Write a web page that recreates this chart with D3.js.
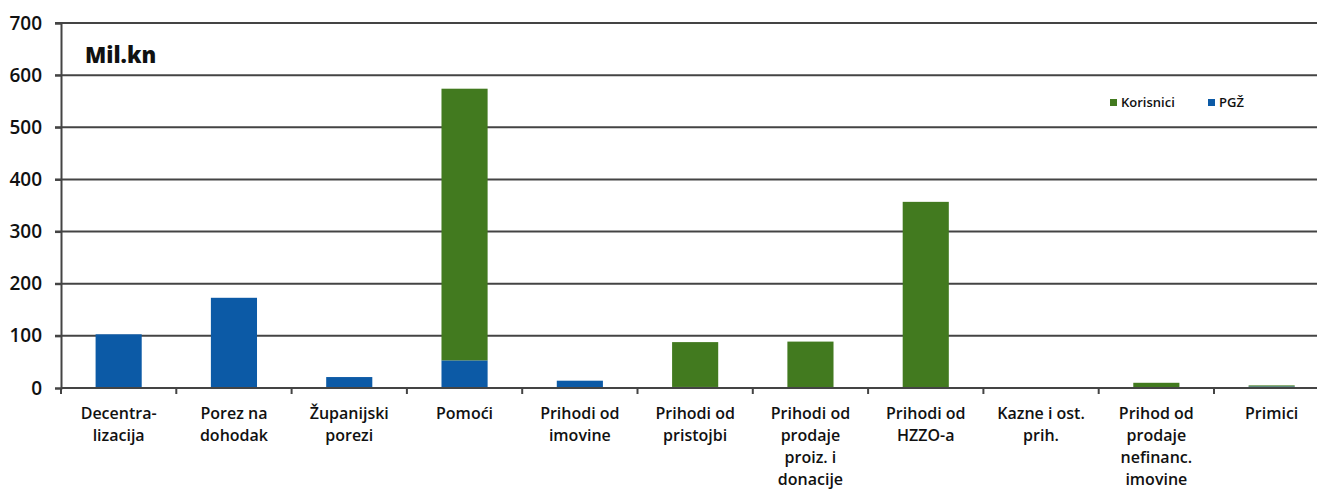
<!DOCTYPE html>
<html><head><meta charset="utf-8">
<script src="https://cdn.jsdelivr.net/npm/d3@7"></script>
<style>
html,body{margin:0;padding:0;background:#fff;overflow:hidden}
text{font-family:"Open Sans","Lato",sans-serif;fill:#111}
</style></head>
<body>
<svg id="c" width="1317" height="495"></svg>
<script>
const categories = [
  ["Decentra-","lizacija"],
  ["Porez na","dohodak"],
  ["Županijski","porezi"],
  ["Pomoći"],
  ["Prihodi od","imovine"],
  ["Prihodi od","pristojbi"],
  ["Prihodi od","prodaje","proiz. i","donacije"],
  ["Prihodi od","HZZO-a"],
  ["Kazne i ost.","prih."],
  ["Prihod od","prodaje","nefinanc.","imovine"],
  ["Primici"]
];
const pgz       = [103, 173, 21, 53, 14, 2, 1, 0, 0, 0, 3];
const korisnici = [0, 0, 0, 521, 0, 86, 88, 357, 1, 10, 2];
const yTicks = [0, 100, 200, 300, 400, 500, 600, 700];
const seriesNames = ["Korisnici", "PGŽ"];
const colors = {"Korisnici": "#427a1f", "PGŽ": "#0c5aa6"};

const svg = d3.select("#c");
const x0 = 61, x1 = 61 + 115.3 * 11;
const x = d3.scaleBand().domain(d3.range(categories.length)).range([x0, x1])
  .paddingInner(0.6).paddingOuter(0.3);
const y = d3.scaleLinear().domain([0, 700]).range([388, 23]);

// gridlines
svg.append("g").selectAll("line").data(yTicks.filter(d => d > 0)).join("line")
  .attr("x1", x0 - 6).attr("x2", 1317)
  .attr("y1", d => y(d)).attr("y2", d => y(d))
  .attr("stroke", "#444").attr("stroke-width", 2);

// y axis
const yAxis = svg.append("g").attr("transform", `translate(${x0},0)`)
  .call(d3.axisLeft(y).tickValues(yTicks).tickSize(6).tickPadding(13));
yAxis.select(".domain").attr("stroke", "#444").attr("stroke-width", 2);
yAxis.selectAll(".tick line").attr("stroke", "#444").attr("stroke-width", 2);
yAxis.selectAll("text").attr("font-size", 19).attr("font-weight", 600)
  .style("font-family", "'Open Sans',sans-serif").attr("fill", "#111");

// stacked bars
const data = categories.map((c, i) => ({i, "PGŽ": pgz[i], "Korisnici": korisnici[i]}));
const stack = d3.stack().keys(["PGŽ", "Korisnici"])(data);
svg.append("g").selectAll("g").data(stack).join("g")
  .attr("fill", d => colors[d.key])
  .selectAll("rect").data(d => d).join("rect")
  .attr("x", d => x(d.data.i)).attr("width", x.bandwidth())
  .attr("y", d => y(d[1])).attr("height", d => y(d[0]) - y(d[1]));

// x axis baseline with ticks between categories
const xAxisG = svg.append("g");
xAxisG.append("line").attr("x1", x0).attr("x2", 1317)
  .attr("y1", y(0)).attr("y2", y(0)).attr("stroke", "#444").attr("stroke-width", 2);
const step = x.step();
xAxisG.selectAll("line.tk").data(d3.range(categories.length + 1)).join("line")
  .attr("class", "tk")
  .attr("x1", i => x0 + i * step).attr("x2", i => x0 + i * step)
  .attr("y1", y(0)).attr("y2", y(0) + 6).attr("stroke", "#444").attr("stroke-width", 2);

// category labels
const lab = svg.append("g").selectAll("text").data(categories).join("text")
  .attr("x", (d, i) => x(i) + x.bandwidth() / 2)
  .attr("y", 419).attr("text-anchor", "middle")
  .attr("font-size", 16).attr("font-weight", 600);
lab.selectAll("tspan").data(d => d).join("tspan")
  .attr("x", function() { return d3.select(this.parentNode).attr("x"); })
  .attr("dy", (d, j) => j === 0 ? 0 : 22).text(d => d);

// title
svg.append("text").attr("x", 85).attr("y", 63).attr("font-size", 22)
  .attr("font-weight", 800).text("Mil.kn");

// legend
const leg = svg.append("g");
const legPos = [{k: "Korisnici", x: 1110}, {k: "PGŽ", x: 1208}];
legPos.forEach(p => {
  leg.append("rect").attr("x", p.x).attr("y", 99).attr("width", 7).attr("height", 7)
    .attr("fill", colors[p.k]);
  leg.append("text").attr("x", p.x + 11).attr("y", 107).attr("font-size", 13)
    .attr("font-weight", 600).text(p.k);
});
</script>
</body></html>
